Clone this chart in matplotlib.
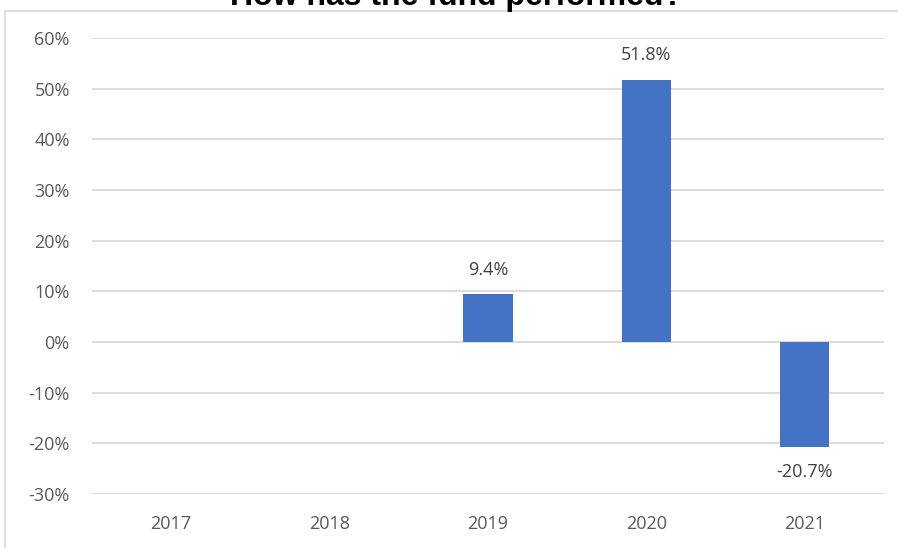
import numpy as np
import matplotlib.pyplot as plt
from matplotlib.patches import Rectangle

years = ['2017', '2018', '2019', '2020', '2021']
returns = [np.nan, np.nan, 0.094, 0.518, -0.207]
labels = ['', '', '9.4%', '51.8%', '-20.7%']
yticks = [-0.3, -0.2, -0.1, 0.0, 0.1, 0.2, 0.3, 0.4, 0.5, 0.6]

plt.rcParams['font.family'] = ['Open Sans', 'DejaVu Sans']

fig = plt.figure(figsize=(8.98, 5.48), dpi=100)
ax = fig.add_axes([0.1024, 0.0985, 0.882, 0.8322])

# outer chart border (partly off canvas like the screenshot)
fig.patches.append(Rectangle((5/898, -0.1), 1.2, 1 - 11/548 + 0.1,
                             transform=fig.transFigure, fill=False,
                             edgecolor='#d9d9d9', lw=1.2))

x = np.arange(len(years))
ax.bar(x, returns, width=0.31, color='#4472c4', zorder=3)

for i, (v, t) in enumerate(zip(returns, labels)):
    if np.isnan(v):
        continue
    if v >= 0:
        ax.text(i, v + 0.03, t, ha='center', va='bottom', fontsize=13, color='#404040')
    else:
        ax.text(i, v - 0.032, t, ha='center', va='top', fontsize=13, color='#404040')

ax.set_xlim(-0.5, len(years) - 0.5)
ax.set_ylim(-0.3, 0.6)
ax.set_yticks(yticks)
ax.set_yticklabels([f'{round(t*100)}%' for t in yticks])
ax.set_xticks(x)
ax.set_xticklabels(years)
ax.yaxis.grid(True, color='#d9d9d9', lw=1.3, zorder=0)
ax.tick_params(axis='both', length=0, labelsize=13, labelcolor='#595959')
ax.tick_params(axis='y', pad=16)
ax.tick_params(axis='x', pad=15)
for s in ax.spines.values():
    s.set_visible(False)

fig.text(0.508, 1 - 5/548, 'How has the fund performed?', ha='center', va='baseline',
         fontsize=23, fontweight='bold', family='Liberation Sans', color='black')

fig.savefig('out.png', dpi=100)
